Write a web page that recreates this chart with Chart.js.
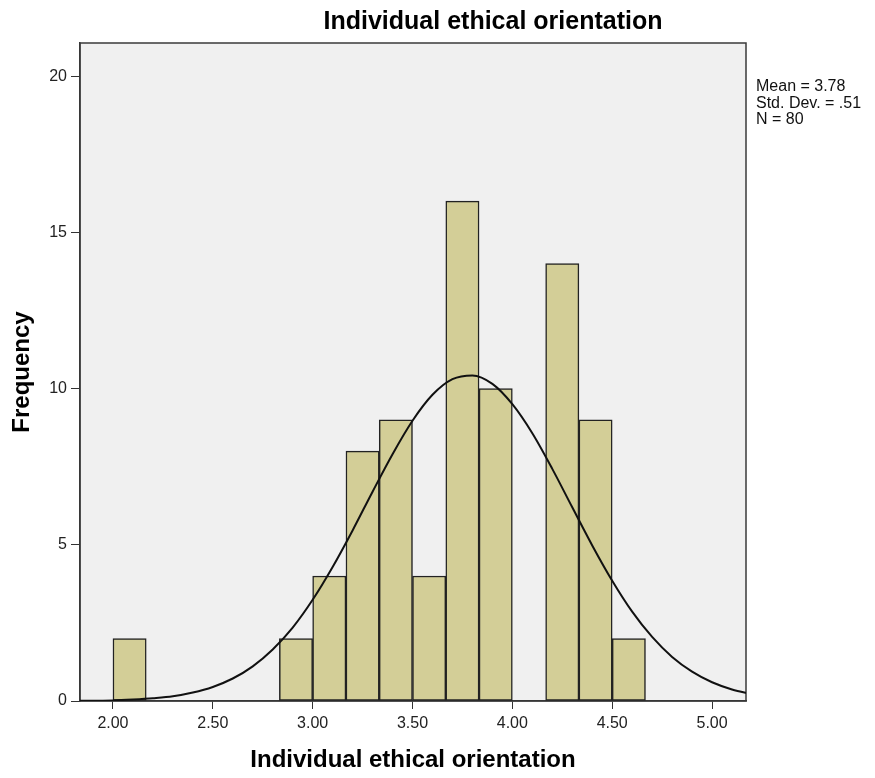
<!DOCTYPE html>
<html>
<head>
<meta charset="utf-8">
<script src="https://cdn.jsdelivr.net/npm/chart.js@4"></script>
<style>
    html, body { margin: 0; padding: 0; background: #ffffff; }
    #wrap { width: 875px; height: 778px; }
</style>
</head>
<body>
<div id="wrap"><canvas id="canvasSingle" width="875" height="778"></canvas></div>
<script>
// bins are 1/6 wide, start value of each bin
const binStarts = [2.0, 2.8333, 3.0, 3.1667, 3.3333, 3.5, 3.6667, 3.8333, 4.1667, 4.3333, 4.5];
const binCounts = [2, 2, 4, 8, 9, 4, 16, 10, 14, 9, 2];
const binWidth = 1 / 6;

// normal curve
const curveX = [1.8, 1.9, 2.0, 2.1, 2.2, 2.3, 2.4, 2.5, 2.6, 2.7, 2.8, 2.9, 3.0, 3.1, 3.2, 3.3, 3.4, 3.5,
    3.6, 3.7, 3.8, 3.9, 4.0, 4.1, 4.2, 4.3, 4.4, 4.5, 4.6, 4.7, 4.8, 4.9, 5.0, 5.1, 5.2];
const curveY = [0.01, 0.01, 0.02, 0.05, 0.09, 0.15, 0.27, 0.45, 0.72, 1.11, 1.65, 2.35, 3.24, 4.29, 5.46, 6.70, 7.90, 8.97,
    9.80, 10.30, 10.42, 10.15, 9.50, 8.57, 7.43, 6.20, 4.98, 3.85, 2.86, 2.05, 1.41, 0.94, 0.60, 0.37, 0.22];

const xTicks = [2.0, 2.5, 3.0, 3.5, 4.0, 4.5, 5.0];
const yTicks = [0, 5, 10, 15, 20];
const statsLines = ['Mean = 3.78', 'Std. Dev. = .51', 'N = 80'];

const chartTitle = 'Individual ethical orientation';
const xTitle = 'Individual ethical orientation';
const yTitle = 'Frequency';

const fontFam = '"Liberation Sans", Arial, sans-serif';

const spssDecor = {
    id: 'spssDecor',
    beforeDraw(chart) {
        const { ctx, chartArea: a } = chart;
        ctx.save();
        ctx.fillStyle = '#f0f0f0';
        ctx.fillRect(a.left, a.top, a.right - a.left, a.bottom - a.top);
        ctx.restore();
    },
    beforeDatasetsDraw(chart) {
        const { ctx, chartArea: a } = chart;
        ctx.save();
        ctx.strokeStyle = '#3a3a3a';
        ctx.lineWidth = 1.5;
        ctx.strokeRect(a.left, a.top, a.right - a.left, a.bottom - a.top);
        ctx.restore();
    },
    afterDraw(chart) {
        const { ctx, chartArea: a } = chart;
        ctx.save();
        ctx.fillStyle = '#000';
        ctx.textAlign = 'center';
        ctx.textBaseline = 'middle';
        ctx.font = 'bold 25px ' + fontFam;
        ctx.fillText(chartTitle, 493, 22);
        ctx.font = 'bold 24px ' + fontFam;
        ctx.fillText(xTitle, (a.left + a.right) / 2, 760);
        ctx.translate(22, 372);
        ctx.rotate(-Math.PI / 2);
        ctx.fillText(yTitle, 0, 0);
        ctx.restore();

        ctx.save();
        ctx.fillStyle = '#111';
        ctx.font = '16px ' + fontFam;
        ctx.textAlign = 'left';
        ctx.textBaseline = 'middle';
        statsLines.forEach((s, i) => ctx.fillText(s, 756, 87 + i * 16.5));
        ctx.restore();
    }
};

let config = {
    type: 'bar',
    data: {
        datasets: [{
            type: 'line',
            data: curveX.map((x, i) => ({ x: x, y: curveY[i] })),
            borderColor: '#111',
            borderWidth: 2,
            pointRadius: 0,
            cubicInterpolationMode: 'monotone',
            fill: false,
            order: 0
        }, {
            type: 'bar',
            data: binStarts.map((b, i) => ({ x: b + binWidth / 2, y: binCounts[i] })),
            backgroundColor: '#d3ce97',
            borderColor: '#222',
            borderWidth: 1.5,
            borderSkipped: false,
            barPercentage: 1,
            categoryPercentage: 1,
            grouped: false,
            order: 1
        }]
    },
    options: {
        responsive: false,
        animation: false,
        layout: {
            padding: { top: 43, right: 129, left: 0, bottom: 0 }
        },
        plugins: {
            legend: { display: false },
            tooltip: { enabled: false },
            title: { display: false }
        },
        scales: {
            x: {
                type: 'linear',
                min: 1.835,
                max: 5.17,
                offset: false,
                afterFit: function (scale) { scale.height = 77; },
                afterBuildTicks: function (scale) {
                    scale.ticks = xTicks.map(v => ({ value: v }));
                },
                ticks: {
                    color: '#222',
                    padding: 5,
                    maxRotation: 0,
                    font: { size: 16, family: fontFam },
                    callback: function (v) { return Number(v).toFixed(2); }
                },
                grid: { display: true, drawOnChartArea: false, drawTicks: true, tickLength: 8, color: '#333', offset: false },
                border: { display: true, color: '#333', width: 1.5 }
            },
            y: {
                min: 0,
                max: 21.06,
                afterFit: function (scale) { scale.width = 80; },
                afterBuildTicks: function (scale) {
                    scale.ticks = yTicks.map(v => ({ value: v }));
                },
                ticks: {
                    color: '#222',
                    padding: 4,
                    font: { size: 16, family: fontFam }
                },
                grid: { display: true, drawOnChartArea: false, drawTicks: true, tickLength: 9, color: '#333' },
                border: { display: true, color: '#333', width: 1.5 }
            }
        }
    },
    plugins: [spssDecor]
};

document.addEventListener('DOMContentLoaded', function () {
    new Chart(document.getElementById('canvasSingle'), config);
});
</script>
</body>
</html>
